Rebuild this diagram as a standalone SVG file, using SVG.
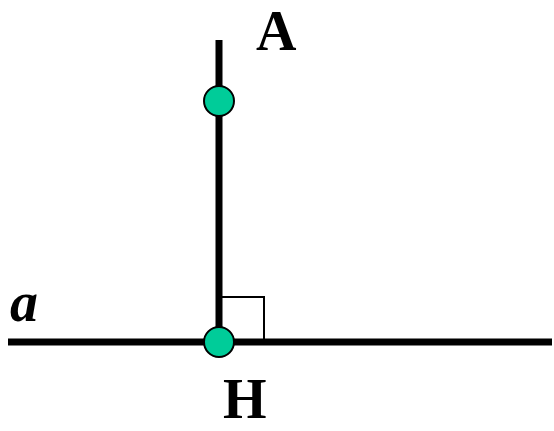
<svg xmlns="http://www.w3.org/2000/svg" width="554" height="431" viewBox="0 0 554 431">
<style>
.ln{stroke:#000;stroke-width:7;fill:none}
.pt{fill:#00CC99;stroke:#000;stroke-width:2}
.lbl{font-family:"Liberation Serif",serif;font-weight:bold;font-size:56px;fill:#000}
</style>
<rect width="554" height="431" fill="#fff"/>
<g id="connectors">
<line class="ln" x1="8" y1="342" x2="552" y2="342"/>
<line class="ln" x1="219" y1="40" x2="219" y2="342"/>
<polyline points="222,297 264,297 264,342" fill="none" stroke="#000" stroke-width="2"/>
</g>
<g id="A"><circle class="pt" cx="219" cy="101" r="15"/><text class="lbl" x="256" y="50">A</text></g>
<g id="H"><circle class="pt" cx="219" cy="342" r="15"/><text class="lbl" x="223" y="418">H</text></g>
<g id="a"><text class="lbl" x="10" y="321" font-style="italic" font-size="58px">a</text></g>
</svg>
